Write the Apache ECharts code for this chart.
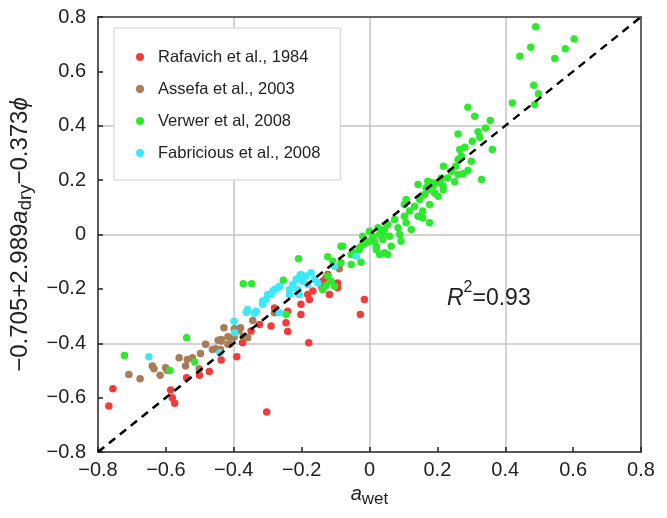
<!DOCTYPE html>
<html><head><meta charset="utf-8">
<script src="https://cdn.jsdelivr.net/npm/echarts@6/dist/echarts.min.js"></script>
<style>html,body{margin:0;padding:0;background:#fff}#c{width:667px;height:518px}</style>
</head><body><div id="c"></div>
<script>
const seriesNames = ['Rafavich et al., 1984', 'Assefa et al., 2003', 'Verwer et al, 2008', 'Fabricious et al., 2008'];
const seriesColors = ['#f23c3c', '#a67d55', '#2eea2e', '#3ae9fa'];

const rafavich = [
  [-0.756,-0.567],[-0.768,-0.631],[-0.586,-0.572],[-0.581,-0.600],[-0.574,-0.621],[-0.539,-0.527],
  [-0.501,-0.518],[-0.472,-0.504],[-0.437,-0.462],[-0.391,-0.450],[-0.374,-0.398],[-0.349,-0.355],
  [-0.324,-0.331],[-0.290,-0.337],[-0.280,-0.270],[-0.246,-0.325],[-0.241,-0.357],[-0.241,-0.282],
  [-0.202,-0.257],[-0.202,-0.294],[-0.182,-0.221],[-0.177,-0.239],[-0.167,-0.208],[-0.140,-0.196],
  [-0.138,-0.172],[-0.128,-0.159],[-0.123,-0.147],[-0.118,-0.221],[-0.094,-0.178],[-0.094,-0.196],
  [-0.015,-0.239],[-0.027,-0.294],[-0.179,-0.398],[-0.303,-0.653]
];
const assefa = [
  [-0.709,-0.515],[-0.676,-0.531],[-0.640,-0.484],[-0.635,-0.494],[-0.617,-0.518],[-0.601,-0.490],
  [-0.596,-0.499],[-0.561,-0.453],[-0.542,-0.484],[-0.537,-0.460],[-0.522,-0.453],[-0.498,-0.438],
  [-0.502,-0.494],[-0.483,-0.404],[-0.463,-0.423],[-0.453,-0.420],[-0.446,-0.389],[-0.437,-0.392],
  [-0.429,-0.343],[-0.417,-0.376],[-0.439,-0.423],[-0.417,-0.404],[-0.399,-0.376],[-0.380,-0.343],
  [-0.372,-0.374],[-0.398,-0.347],[-0.384,-0.352],[-0.344,-0.316],[-0.359,-0.380],[-0.437,-0.386],
  [-0.403,-0.380],[-0.413,-0.404],[-0.280,-0.288],[-0.089,-0.126]
];
const verwer = [
  [-0.722,-0.445],[-0.539,-0.380],[-0.515,-0.469],[-0.588,-0.500],[-0.372,-0.181],[-0.347,-0.181],
  [-0.254,-0.168],[-0.209,-0.089],[-0.204,-0.151],[-0.246,-0.294],[-0.123,-0.082],[-0.079,-0.043],
  [-0.108,-0.098],[-0.084,-0.104],[-0.054,-0.110],[-0.025,-0.102],[-0.020,-0.037],[-0.128,-0.188],
  [-0.113,-0.172],[-0.103,-0.190],[-0.138,-0.202],[-0.123,-0.153],[-0.084,-0.043],[-0.054,-0.074],
  [-0.030,-0.055],[-0.044,-0.067],
  [0.000,0.012],[0.010,-0.006],[0.015,-0.025],[0.025,0.025],[0.030,0.000],[0.039,-0.018],[0.044,0.018],
  [0.054,0.037],[0.059,-0.006],[0.064,-0.043],[0.044,-0.067],[0.074,0.055],[0.084,0.025],[0.089,0.000],
  [0.093,-0.025],[0.103,0.067],[0.108,0.043],[0.118,0.086],[0.123,0.018],[0.133,0.104],[0.143,0.067],
  [0.148,0.129],[0.157,0.086],[0.162,0.147],[0.172,0.165],[0.177,0.110],[0.157,0.061],[0.177,0.043],
  [0.187,0.178],[0.192,0.153],[0.202,0.141],[0.207,0.190],[0.217,0.165],[0.143,0.184],[0.108,0.129],
  [0.172,0.196],[-0.020,-0.006],[-0.010,-0.031],[-0.030,-0.049],[0.020,-0.055],[0.030,-0.074],
  [0.054,-0.074],[0.000,-0.025],[0.020,-0.043],[0.039,0.006],[0.152,0.067],[0.103,0.110],
  [0.290,0.468],[0.310,0.435],[0.356,0.419],[0.342,0.392],[0.320,0.378],[0.325,0.358],[0.303,0.343],
  [0.261,0.370],[0.362,0.313],[0.281,0.321],[0.266,0.313],[0.271,0.288],[0.261,0.276],[0.254,0.251],
  [0.300,0.269],[0.290,0.235],[0.276,0.223],[0.261,0.221],[0.241,0.233],[0.218,0.251],[0.231,0.208],
  [0.212,0.208],[0.251,0.194],[0.330,0.202],[0.197,0.190],[0.182,0.190],[0.167,0.172],[0.217,0.178],
  [0.490,0.764],[0.475,0.689],[0.443,0.656],[0.603,0.719],[0.577,0.683],[0.546,0.647],[0.484,0.549],
  [0.498,0.518],[0.487,0.478],[0.421,0.484]
];
const fabricious = [
  [-0.650,-0.450],[-0.399,-0.319],[-0.397,-0.361],[-0.441,-0.435],[-0.363,-0.286],[-0.359,-0.276],
  [-0.334,-0.282],[-0.339,-0.290],[-0.315,-0.245],[-0.315,-0.257],[-0.305,-0.239],[-0.300,-0.221],
  [-0.290,-0.221],[-0.285,-0.208],[-0.280,-0.202],[-0.270,-0.196],[-0.265,-0.190],[-0.236,-0.202],
  [-0.226,-0.184],[-0.212,-0.202],[-0.207,-0.221],[-0.236,-0.221],[-0.202,-0.147],[-0.187,-0.153],
  [-0.182,-0.184],[-0.172,-0.141],[-0.162,-0.165],[-0.152,-0.178],[-0.197,-0.172],[-0.216,-0.165],
  [-0.265,-0.288],[-0.103,-0.117],[-0.039,-0.080]
];
const seriesData = [rafavich, assefa, verwer, fabricious];
const identityLine = [[-0.8,-0.8],[0.8,0.8]];
const axisMin = -0.8, axisMax = 0.8, tickStep = 0.2, gridStep = 0.4;
const r2Text = '=0.93';

const FONT = 'Liberation Sans, Arial, sans-serif';
const fmt = v => (Math.abs(v) < 1e-9 ? '0' : v.toFixed(1).replace('-', '\u2212'));

const mainAxis = (isX) => ({
  type: 'value', min: axisMin, max: axisMax, interval: tickStep,
  axisLine: { show: true, onZero: false, lineStyle: { color: '#222', width: 1.5 } },
  axisTick: { show: true, inside: true, length: 5, lineStyle: { color: '#222', width: 1.5 } },
  axisLabel: { fontSize: 20, color: '#222', fontFamily: FONT, margin: isX ? 8 : 12, formatter: fmt },
  splitLine: { show: false }
});
const gridAxis = (pos) => ({
  type: 'value', min: axisMin, max: axisMax, interval: gridStep, position: pos,
  axisLine: { show: true, onZero: false, lineStyle: { color: '#333', width: 1.5 } },
  axisTick: { show: false }, axisLabel: { show: false },
  splitLine: { show: true, showMinLine: false, showMaxLine: false, lineStyle: { color: '#c4c4c4', width: 1.5 } }
});

const xMain = mainAxis(true);
xMain.name = '{i|a}{s|wet}';
xMain.nameLocation = 'middle';
xMain.nameGap = 27;
xMain.nameTextStyle = { fontFamily: FONT, color: '#222', rich: {
  i: { fontSize: 20, fontStyle: 'italic', fontFamily: FONT, color: '#222', lineHeight: 26 },
  s: { fontSize: 17, fontFamily: FONT, color: '#222', lineHeight: 17, verticalAlign: 'bottom' }
}};
const yMain = mainAxis(false);
yMain.name = '{n|\u22120.705+2.989}{i|a}{s|dry}{n|\u22120.373}{i|\u03d5}';
yMain.nameLocation = 'middle';
yMain.nameGap = 61;
yMain.nameTextStyle = { fontFamily: FONT, color: '#222', rich: {
  n: { fontSize: 24, fontFamily: FONT, color: '#222', lineHeight: 31 },
  i: { fontSize: 24, fontStyle: 'italic', fontFamily: FONT, color: '#222', lineHeight: 31 },
  s: { fontSize: 18.5, fontFamily: FONT, color: '#222', lineHeight: 18, verticalAlign: 'bottom' }
}};

const series = seriesNames.map((name, k) => ({
  name, type: 'scatter', data: seriesData[k], symbolSize: 7.5, xAxisIndex: 0, yAxisIndex: 0,
  itemStyle: { color: seriesColors[k], opacity: 1 }, z: 2
}));
series.push({
  name: 'identity', type: 'line', data: identityLine, symbol: 'none', silent: true, z: 5,
  lineStyle: { color: '#000', width: 2.5, type: [8, 6] }
});

const chart = echarts.init(document.getElementById('c'), null, { renderer: 'canvas' });
chart.setOption({
  animation: false,
  grid: { left: 98, right: 26, top: 17, bottom: 66 },
  xAxis: [xMain, gridAxis('top')],
  yAxis: [yMain, gridAxis('right')],
  legend: {
    data: seriesNames, orient: 'vertical', left: 114, top: 28, icon: 'circle',
    itemWidth: 26, itemHeight: 8, itemGap: 14, selectedMode: false,
    padding: [20, 20, 18, 22], backgroundColor: '#fff', borderColor: '#cfcfcf', borderWidth: 1,
    textStyle: { fontSize: 16.5, color: '#222', fontFamily: FONT, lineHeight: 18 }
  },
  title: {
    text: '{i|R}{p|2}{n|' + r2Text + '}', left: 442, top: 275,
    textStyle: { fontWeight: 'normal', rich: {
      i: { fontSize: 23, fontStyle: 'italic', fontWeight: 'normal', fontFamily: FONT, color: '#222', lineHeight: 30, verticalAlign: 'bottom' },
      p: { fontSize: 16, fontWeight: 'normal', fontFamily: FONT, color: '#222', lineHeight: 16, verticalAlign: 'top' },
      n: { fontSize: 23, fontWeight: 'normal', fontFamily: FONT, color: '#222', lineHeight: 30, verticalAlign: 'bottom' }
    }}
  },
  series
});
</script></body></html>
